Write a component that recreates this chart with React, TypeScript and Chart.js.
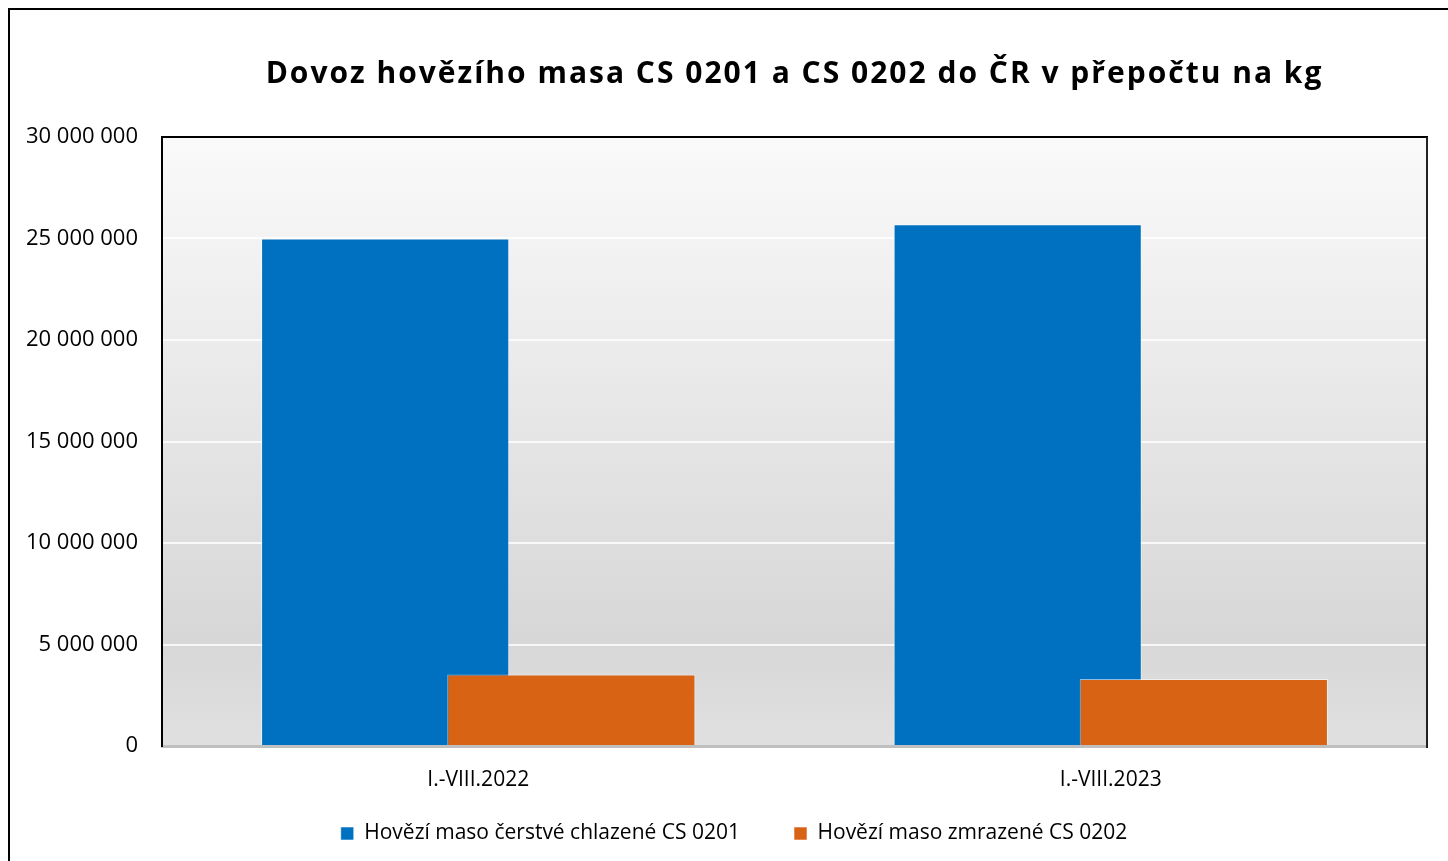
import React, { useEffect, useRef } from "react";
import { Chart, registerables } from "chart.js";

Chart.register(...registerables);

const categories = ["I.-VIII.2022", "I.-VIII.2023"];
const chilledLabel = "Hovězí maso čerstvé chlazené CS 0201";
const frozenLabel = "Hovězí maso zmrazené CS 0202";
const chilledValues = [25000000, 25700000];
const frozenValues = [3520000, 3300000];
const titleText = "Dovoz hovězího masa CS 0201 a CS 0202 do ČR v přepočtu na kg";
const yMax = 30000000;
const yStep = 5000000;

const FONT = "'Open Sans', 'Noto Sans', sans-serif";

const fmt = (v: number) => String(v).replace(/\B(?=(\d{3})+(?!\d))/g, " ");

const bgPlugin = {
  id: "bgGradient",
  beforeDraw(chart: any) {
    const { ctx, chartArea } = chart;
    if (!chartArea) return;
    const { left, top, right, bottom } = chartArea;
    const g = ctx.createLinearGradient(0, top, 0, bottom);
    g.addColorStop(0, "#fafafa");
    g.addColorStop(0.82, "#d7d7d7");
    g.addColorStop(1, "#e0e0e0");
    ctx.save();
    ctx.fillStyle = g;
    ctx.fillRect(left, top, right - left, bottom - top);
    ctx.restore();
  },
  afterDraw(chart: any) {
    const { ctx, chartArea } = chart;
    const { left, top, right, bottom } = chartArea;
    ctx.save();
    ctx.strokeStyle = "#000";
    ctx.lineWidth = 2;
    ctx.beginPath();
    ctx.moveTo(left - 1, top);
    ctx.lineTo(right + 1, top);
    ctx.stroke();
    ctx.strokeStyle = "#222";
    ctx.beginPath();
    ctx.moveTo(right, top);
    ctx.lineTo(right, bottom + 2);
    ctx.stroke();
    ctx.restore();
  },
};

const overlapPlugin = {
  id: "overlapBars",
  afterDatasetsUpdate(chart: any) {
    chart.data.datasets.forEach((_: any, i: number) => {
      const meta = chart.getDatasetMeta(i);
      const sign = i === 0 ? -1 : 1;
      meta.data.forEach((el: any) => {
        el.x += sign * el.width * 0.375;
      });
    });
  },
};

const layoutTweaksPlugin = {
  id: "layoutTweaks",
  afterLayout(chart: any) {
    const tb = chart.titleBlock;
    if (tb && !tb.__spaced) {
      const orig = tb.draw.bind(tb);
      tb.draw = (...args: any[]) => {
        const ctx = chart.ctx;
        ctx.save();
        ctx.letterSpacing = "2px";
        orig(...args);
        ctx.restore();
      };
      tb.__spaced = true;
    }
    if (chart.legend) {
      chart.legend.left = 0;
      chart.legend.right = chart.width;
      chart.legend.width = chart.width;
    }
  },
};

export default function App() {
  const ref = useRef<HTMLCanvasElement | null>(null);

  useEffect(() => {
    if (!ref.current) return;
    const chart = new Chart(ref.current, {
      type: "bar",
      data: {
        labels: categories,
        datasets: [
          {
            label: chilledLabel,
            data: chilledValues,
            backgroundColor: "#0070c0",
            borderColor: "rgba(255,255,255,0.55)",
            borderWidth: 1,
            order: 1,
            grouped: false,
            barPercentage: 0.3924,
            categoryPercentage: 1,
          },
          {
            label: frozenLabel,
            data: frozenValues,
            backgroundColor: "#d86314",
            borderColor: "rgba(255,255,255,0.55)",
            borderWidth: 1,
            order: 0,
            grouped: false,
            barPercentage: 0.3924,
            categoryPercentage: 1,
          },
        ],
      } as any,
      options: {
        animation: false,
        responsive: true,
        maintainAspectRatio: false,
        layout: { padding: { left: 0, right: 33, top: 0, bottom: 7 } },
        plugins: {
          title: {
            display: true,
            text: titleText,
            fullSize: false,
            color: "#000",
            font: { family: FONT, size: 30, weight: "bold" },
            padding: { top: 48, bottom: 45 },
          },
          legend: {
            position: "bottom",
            labels: {
              color: "#000",
              font: { family: FONT, size: 21 },
              boxWidth: 13,
              boxHeight: 13,
              padding: 54,
              sort: (a: any, b: any) => a.datasetIndex - b.datasetIndex,
            },
          },
          tooltip: { enabled: false },
        },
        scales: {
          x: {
            grid: { display: false, drawTicks: false },
            border: { display: true, color: "#bfbfbf", width: 3 },
            ticks: { color: "#000", font: { family: FONT, size: 21 }, mirror: true, padding: -47 },
            afterFit: (s: any) => {
              s.height = 23;
            },
          },
          y: {
            min: 0,
            max: yMax,
            grid: { color: "rgba(255,255,255,0.8)", lineWidth: 2, drawTicks: false },
            border: { display: true, color: "#000", width: 2 },
            ticks: {
              stepSize: yStep,
              color: "#000",
              font: { family: FONT, size: 22 },
              padding: 24,
              callback: (v: any) => fmt(Number(v)),
            },
            afterFit: (s: any) => {
              s.width = 154;
            },
          },
        },
      } as any,
      plugins: [bgPlugin, overlapPlugin, layoutTweaksPlugin],
    });
    return () => chart.destroy();
  }, []);

  return (
    <div style={{ position: "fixed", left: 0, top: 0, width: 1448, height: 861, overflow: "hidden", background: "#fff" }}>
      <div
        style={{
          position: "absolute",
          left: 8,
          top: 8,
          width: 1460,
          height: 870,
          borderLeft: "2px solid #000",
          borderTop: "2px solid #000",
          boxSizing: "border-box",
        }}
      />
      <div style={{ position: "absolute", left: 8, top: 8, width: 1452, height: 853 }}>
        <canvas ref={ref} />
      </div>
    </div>
  );
}
